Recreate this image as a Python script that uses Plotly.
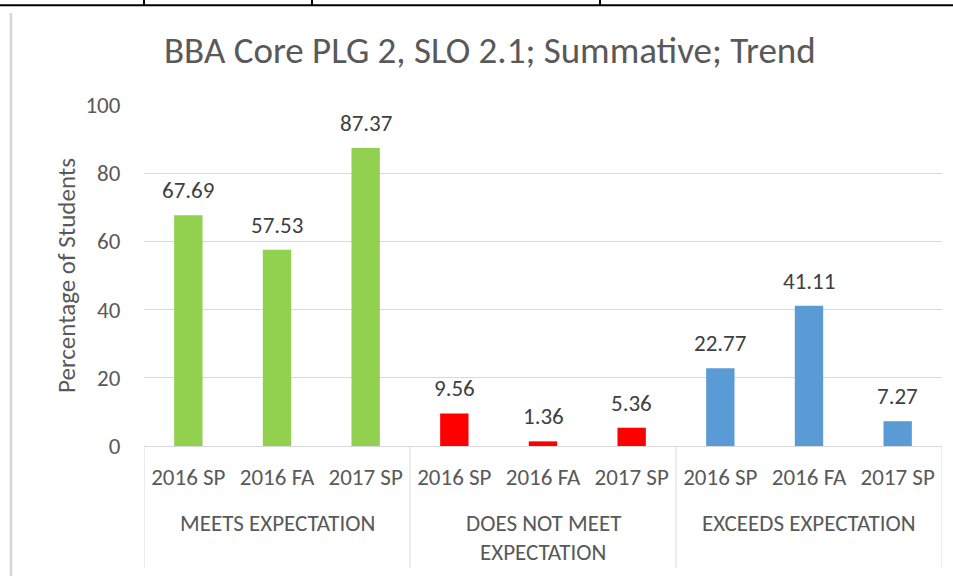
import plotly.graph_objects as go

# chart data
groups = ["MEETS EXPECTATION", "DOES NOT MEET\nEXPECTATION", "EXCEEDS EXPECTATION"]
periods = ["2016 SP", "2016 FA", "2017 SP"]
meets = [67.69, 57.53, 87.37]
not_meet = [9.56, 1.36, 5.36]
exceeds = [22.77, 41.11, 7.27]
group_colors = ["#92D050", "#FF0000", "#5B9BD5"]
y_ticks = [0, 20, 40, 60, 80, 100]

FONT = "Calibri, Carlito, Lato, 'Open Sans', sans-serif"
TEXT = "#595959"
GRID = "#D9D9D9"

series = [meets, not_meet, exceeds]
x_idx, y_vals, colors, tick_text = [], [], [], []
for g, vals in enumerate(series):
    for p, v in enumerate(vals):
        x_idx.append(g * len(periods) + p)
        y_vals.append(v)
        colors.append(group_colors[g])
        tick_text.append(periods[p])

fig = go.Figure()
fig.add_trace(go.Bar(
    x=x_idx, y=y_vals, width=0.32,
    marker=dict(color=colors, line_width=0),
    showlegend=False, hoverinfo="x+y"
))

# data labels above bars
for x, v in zip(x_idx, y_vals):
    fig.add_annotation(x=x, y=v, text=f"{v:.2f}", showarrow=False,
                       yanchor="middle", yshift=25,
                       font=dict(family=FONT, size=23, color="#404040"))

# group labels under the period labels
n = len(periods)
for g, name in enumerate(groups):
    center = g * n + (n - 1) / 2
    for k, line in enumerate(name.split("\n")):
        fig.add_annotation(x=center, xref="x", y=-0.226 - k * 0.085, yref="paper",
                           text=line, showarrow=False, yanchor="middle",
                           font=dict(family=FONT, size=23, color=TEXT))

# divider lines of the category box
for g in range(len(groups) + 1):
    fig.add_shape(type="line", xref="x", yref="paper",
                  x0=g * n - 0.5, x1=g * n - 0.5, y0=0, y1=-0.358,
                  line=dict(color=GRID, width=1))

# page decorations (table border around the chart)
fig.add_shape(type="line", xref="paper", yref="paper",
              x0=-0.19, x1=1.02, y0=1.2925, y1=1.2925,
              line=dict(color="black", width=2))
for px in [144, 312, 600]:
    xp = (px - 144) / 798
    fig.add_shape(type="line", xref="paper", yref="paper",
                  x0=xp, x1=xp, y0=1.2925, y1=1.31,
                  line=dict(color="black", width=2))
fig.add_shape(type="line", xref="paper", yref="paper",
              x0=-0.1667, x1=-0.1667, y0=1.27, y1=-0.4,
              line=dict(color="#D6D6D6", width=2.5))

fig.update_layout(
    width=953, height=576,
    margin=dict(l=144, r=11, t=105, b=130),
    paper_bgcolor="white", plot_bgcolor="white",
    font=dict(family=FONT, color=TEXT),
    title=dict(text="BBA Core PLG 2, SLO 2.1; Summative; Trend",
               x=0.514, xanchor="center", y=0.913, yanchor="middle",
               font=dict(family=FONT, size=37, color=TEXT)),
    bargap=0.68,
)
fig.update_xaxes(
    range=[-0.5, len(x_idx) - 0.5],
    tickvals=x_idx, ticktext=tick_text,
    ticks="outside", ticklen=10, tickcolor="rgba(0,0,0,0)",
    tickfont=dict(family=FONT, size=23, color=TEXT),
    showgrid=False, zeroline=False,
    showline=True, linecolor=GRID, linewidth=1,
)
fig.update_yaxes(
    range=[0, 100], tickvals=y_ticks,
    ticks="outside", ticklen=18, tickcolor="rgba(0,0,0,0)",
    tickfont=dict(family=FONT, size=23, color=TEXT),
    showgrid=True, gridcolor=GRID, gridwidth=1, zeroline=False,
    title=dict(text="Percentage of Students", standoff=2,
               font=dict(family=FONT, size=25, color=TEXT)),
)

fig.write_html("out.html", config={"displayModeBar": False},
               post_script="document.body.style.margin='0';")
